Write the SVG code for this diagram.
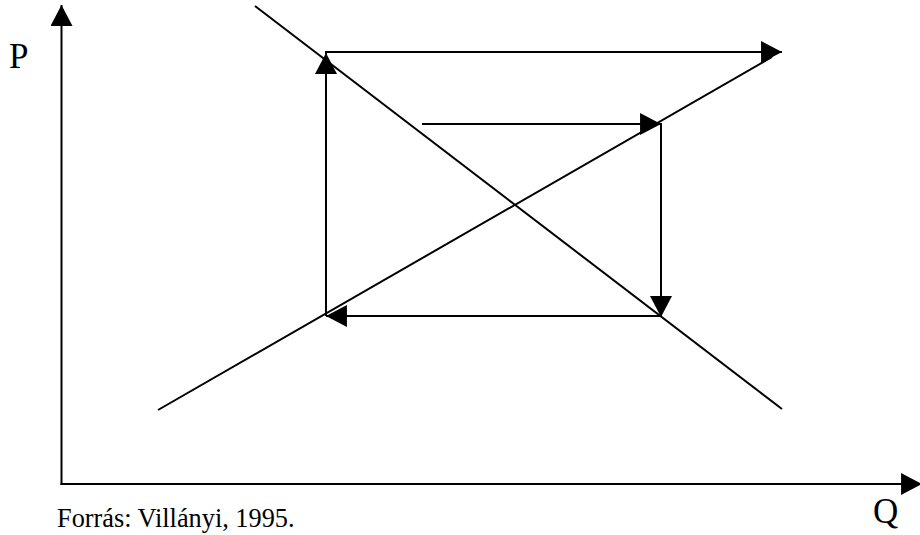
<svg xmlns="http://www.w3.org/2000/svg" width="920" height="535" viewBox="0 0 920 535">
<style>
.ln{stroke:#000;stroke-width:2;fill:none}
.t{font-family:'Liberation Serif','Times New Roman','DejaVu Serif',serif;fill:#000}
</style>
<defs>
<marker id="ah" markerUnits="userSpaceOnUse" markerWidth="22" markerHeight="22" viewBox="0 0 20 21" refX="20" refY="10.5" orient="auto">
<path d="M0,0 L20,10.5 L0,21 Z" fill="#000"/>
</marker>
</defs>
<rect width="920" height="535" fill="#fff"/>
<g id="axes">
<line class="ln" x1="61.5" y1="485" x2="61.5" y2="5" marker-end="url(#ah)"/>
<line class="ln" x1="60.5" y1="484" x2="922" y2="484" marker-end="url(#ah)"/>
</g>
<g id="curves">
<line class="ln" x1="255" y1="6" x2="782" y2="409"/>
<line class="ln" x1="158" y1="410" x2="772" y2="57"/>
</g>
<g id="connectors">
<line class="ln" x1="326" y1="316" x2="326" y2="53" marker-end="url(#ah)"/>
<line class="ln" x1="325" y1="52" x2="782" y2="52" marker-end="url(#ah)"/>
<line class="ln" x1="422" y1="124" x2="661" y2="124" marker-end="url(#ah)"/>
<line class="ln" x1="661" y1="123" x2="661" y2="317" marker-end="url(#ah)"/>
<line class="ln" x1="662" y1="316" x2="326" y2="316" marker-end="url(#ah)"/>
</g>
<g id="labels">
<text class="t" x="9" y="68" font-size="35">P</text>
<text class="t" x="873" y="523" font-size="35">Q</text>
<text class="t" x="57" y="527" font-size="26.3">Forrás: Villányi, 1995.</text>
</g>
</svg>
